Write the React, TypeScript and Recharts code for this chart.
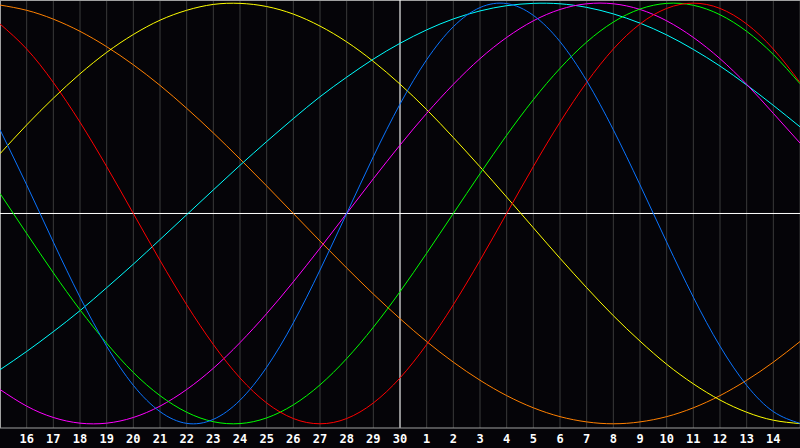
import { LineChart, Line, XAxis, YAxis, CartesianGrid, ReferenceLine } from 'recharts';

// day index 0..30 (15th of one month to 15th of the next)
const dayIndex = [
  0, 1, 2, 3, 4, 5, 6, 7, 8, 9, 10, 11, 12, 13, 14, 15,
  16, 17, 18, 19, 20, 21, 22, 23, 24, 25, 26, 27, 28, 29, 30,
];

const tickDays = [
  1, 2, 3, 4, 5, 6, 7, 8, 9, 10, 11, 12, 13, 14, 15,
  16, 17, 18, 19, 20, 21, 22, 23, 24, 25, 26, 27, 28, 29,
];

const tickLabels = [
  '16', '17', '18', '19', '20', '21', '22', '23', '24', '25', '26', '27', '28', '29', '30',
  '1', '2', '3', '4', '5', '6', '7', '8', '9', '10', '11', '12', '13', '14',
];

const physical = [
  0.398, 0.136, -0.136, -0.398, -0.631, -0.817, -0.942, -0.998, -0.979, -0.888, -0.731,
  -0.520, -0.269, 0.0, 0.270, 0.520, 0.731, 0.888, 0.979, 0.998, 0.942,
  0.817, 0.631, 0.398, 0.136, -0.136, -0.398, -0.631, -0.817, -0.942, -0.998,
];

const emotional = [
  0.901, 0.782, 0.623, 0.434, 0.223, 0.0, -0.223, -0.434, -0.623, -0.782, -0.901,
  -0.975, -1.0, -0.975, -0.901, -0.782, -0.623, -0.434, -0.223, 0.0, 0.223,
  0.434, 0.623, 0.782, 0.901, 0.975, 1.0, 0.975, 0.901, 0.782, 0.623,
];

const intellectual = [
  0.095, -0.095, -0.282, -0.458, -0.617, -0.756, -0.866, -0.945, -0.990, -0.999, -0.972,
  -0.910, -0.815, -0.690, -0.541, -0.372, -0.189, 0.0, 0.189, 0.372, 0.541,
  0.690, 0.815, 0.910, 0.972, 0.999, 0.990, 0.945, 0.866, 0.756, 0.617,
];

const intuitive = [
  -0.837, -0.916, -0.970, -0.997, -0.997, -0.970, -0.916, -0.837, -0.736, -0.614, -0.476,
  -0.325, -0.165, 0.0, 0.165, 0.325, 0.476, 0.614, 0.736, 0.837, 0.916,
  0.970, 0.997, 0.997, 0.970, 0.916, 0.837, 0.736, 0.614, 0.476, 0.335,
];

const aesthetic = [
  0.284, 0.421, 0.548, 0.664, 0.766, 0.851, 0.919, 0.966, 0.994, 0.999, 0.984,
  0.948, 0.891, 0.816, 0.723, 0.615, 0.494, 0.361, 0.222, 0.078, -0.068,
  -0.213, -0.353, -0.486, -0.607, -0.717, -0.810, -0.887, -0.945, -0.983, -0.999,
];

const awareness = [
  0.991, 0.966, 0.924, 0.866, 0.793, 0.707, 0.609, 0.500, 0.383, 0.259, 0.131,
  0.0, -0.131, -0.259, -0.383, -0.500, -0.609, -0.707, -0.793, -0.866, -0.924,
  -0.966, -0.991, -1.0, -0.991, -0.966, -0.924, -0.866, -0.793, -0.707, -0.609,
];

const spiritual = [
  -0.743, -0.656, -0.562, -0.462, -0.353, -0.241, -0.124, -0.006, 0.112, 0.229, 0.342,
  0.451, 0.555, 0.648, 0.734, 0.809, 0.873, 0.925, 0.963, 0.988, 0.999,
  0.997, 0.980, 0.949, 0.905, 0.849, 0.780, 0.701, 0.611, 0.514, 0.412,
];

const data = dayIndex.map((i, k) => ({
  i,
  physical: physical[k],
  emotional: emotional[k],
  intellectual: intellectual[k],
  intuitive: intuitive[k],
  aesthetic: aesthetic[k],
  awareness: awareness[k],
  spiritual: spiritual[k],
}));

const series = [
  { key: 'awareness', color: '#ff8000' },
  { key: 'aesthetic', color: '#ffff00' },
  { key: 'spiritual', color: '#00ffff' },
  { key: 'intuitive', color: '#ff00ff' },
  { key: 'intellectual', color: '#00ff00' },
  { key: 'emotional', color: '#ff0000' },
  { key: 'physical', color: '#0a74ff' },
];

const labelFor = (d: number) => tickLabels[tickDays.indexOf(d)] ?? '';

export default function App() {
  return (
    <div style={{ position: 'absolute', left: 0, top: 0, width: 800, height: 448, background: '#050408' }}>
      <LineChart width={800} height={448} data={data} margin={{ top: 0, right: 0, bottom: 0, left: 0 }}>
        <CartesianGrid horizontal={false} vertical={true} stroke="#3a3a3a" />
        <XAxis
          dataKey="i"
          type="number"
          domain={[0, 30]}
          ticks={tickDays}
          tickFormatter={labelFor}
          interval={0}
          height={20}
          tickLine={false}
          tickSize={5}
          tickMargin={1}
          axisLine={{ stroke: '#a0a0a0' }}
          tick={{ fill: '#ffffff', fontSize: 12, fontWeight: 'bold', fontFamily: 'DejaVu Sans Mono' }}
        />
        <YAxis type="number" domain={[-1.02, 1.015]} hide allowDataOverflow />
        <ReferenceLine x={0} stroke="#a0a0a0" strokeWidth={2} />
        <ReferenceLine y={1.015} stroke="#a0a0a0" strokeWidth={2} />
        <ReferenceLine y={0} stroke="#ffffff" />
        <ReferenceLine x={15} stroke="#ffffff" />
        {series.map((s) => (
          <Line
            key={s.key}
            dataKey={s.key}
            type="natural"
            stroke={s.color}
            strokeWidth={1}
            dot={false}
            activeDot={false}
            isAnimationActive={false}
          />
        ))}
      </LineChart>
    </div>
  );
}
